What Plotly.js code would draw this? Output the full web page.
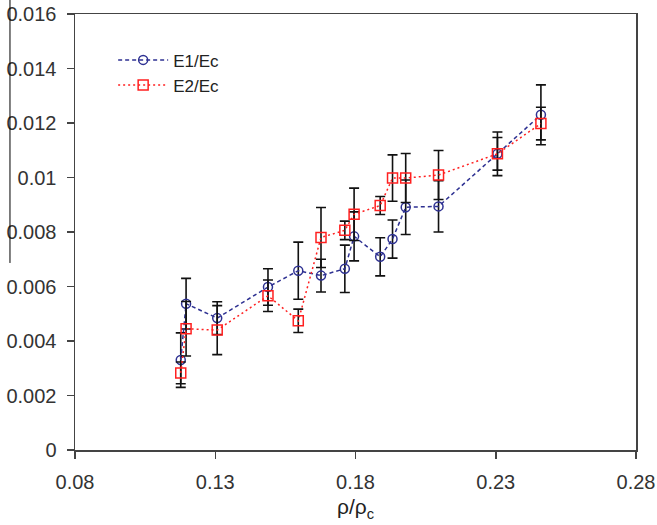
<!DOCTYPE html>
<html>
<head>
<meta charset="utf-8">
<script src="https://cdn.plot.ly/plotly-3.0.1.min.js"></script>
<style>html,body{margin:0;padding:0;background:#fff;}#chart{width:657px;height:525px;}</style>
</head>
<body>
<div id="chart"></div>
<script>
var rho = [0.1177, 0.1196, 0.1307, 0.1488, 0.1596, 0.1677, 0.1762, 0.1795, 0.1888, 0.1932, 0.1979, 0.2096, 0.2306, 0.2461];
var e1 = [0.0033, 0.00537, 0.00484, 0.00598, 0.00658, 0.0064, 0.00665, 0.00784, 0.00709, 0.00774, 0.00891, 0.00894, 0.01087, 0.0123];
var e1Err = [0.001, 0.00093, 0.0006, 0.00067, 0.00105, 0.0006, 0.00087, 0.0009, 0.0007, 0.0007, 0.001, 0.00094, 0.0006, 0.0011];
var e2 = [0.00283, 0.00445, 0.0044, 0.00566, 0.00474, 0.0078, 0.00806, 0.00865, 0.00897, 0.00998, 0.00998, 0.01009, 0.01087, 0.01198];
var e2Err = [0.0004, 0.001, 0.0009, 0.00058, 0.00043, 0.0011, 0.00034, 0.00096, 0.00033, 0.00085, 0.0009, 0.0009, 0.0008, 0.0006];
var xTicks = [0.08, 0.13, 0.18, 0.23, 0.28];
var xTickText = ['0.08', '0.13', '0.18', '0.23', '0.28'];
var yTicks = [0, 0.002, 0.004, 0.006, 0.008, 0.01, 0.012, 0.014, 0.016];
var yTickText = ['0', '0.002', '0.004', '0.006', '0.008', '0.01', '0.012', '0.014', '0.016'];

var traces = [
  {
    x: rho, y: e1, name: 'E1/Ec', type: 'scatter', mode: 'lines+markers',
    line: {color: '#2e3192', width: 1.5, dash: '4px,3px'},
    marker: {symbol: 'circle-open', size: 9, color: '#2e3192', line: {width: 1.5}},
    error_y: {type: 'data', array: e1Err, visible: true, color: '#111', thickness: 1.6, width: 5}
  },
  {
    x: rho, y: e2, name: 'E2/Ec', type: 'scatter', mode: 'lines+markers',
    line: {color: '#ff2020', width: 1.5, dash: '2px,3px'},
    marker: {symbol: 'square-open', size: 10, color: '#ff2020', line: {width: 1.5}},
    error_y: {type: 'data', array: e2Err, visible: true, color: '#111', thickness: 1.6, width: 5}
  }
];

var layout = {
  width: 657, height: 525,
  margin: {l: 75, r: 21, t: 14, b: 75},
  paper_bgcolor: '#fff', plot_bgcolor: '#fff',
  font: {family: 'Liberation Sans, Arial, sans-serif', color: '#222', size: 20},
  showlegend: true,
  legend: {x: 0.068, y: 0.935, xanchor: 'left', yanchor: 'top', bgcolor: 'rgba(0,0,0,0)',
           font: {size: 17, color: '#222'}, itemwidth: 50, tracegroupgap: 4},
  xaxis: {
    range: [0.08, 0.28], tickvals: xTicks, ticktext: xTickText,
    showgrid: false, zeroline: false, showline: true, mirror: true,
    linecolor: '#444', linewidth: 1.5, ticks: 'outside', ticklen: 7, tickcolor: '#444', tickwidth: 1.5,
    tickfont: {size: 20, color: '#333'}, ticklabelstandoff: 6,
    title: {text: 'ρ/ρ<sub>c</sub>', font: {size: 21, color: '#222'}, standoff: 8}
  },
  yaxis: {
    range: [0, 0.016], tickvals: yTicks, ticktext: yTickText,
    showgrid: false, zeroline: false, showline: true, mirror: true,
    linecolor: '#444', linewidth: 1.5, ticks: 'outside', ticklen: 7, tickcolor: '#444', tickwidth: 1.5,
    tickfont: {size: 20, color: '#333'}, ticklabelstandoff: 6
  },
  shapes: [
    {type: 'line', xref: 'paper', yref: 'paper', x0: -0.1159, x1: -0.1159, y0: 0.429, y1: 1.04,
     line: {color: '#000', width: 1}}
  ]
};

Plotly.newPlot('chart', traces, layout, {displayModeBar: false, staticPlot: true});
</script>
</body>
</html>
